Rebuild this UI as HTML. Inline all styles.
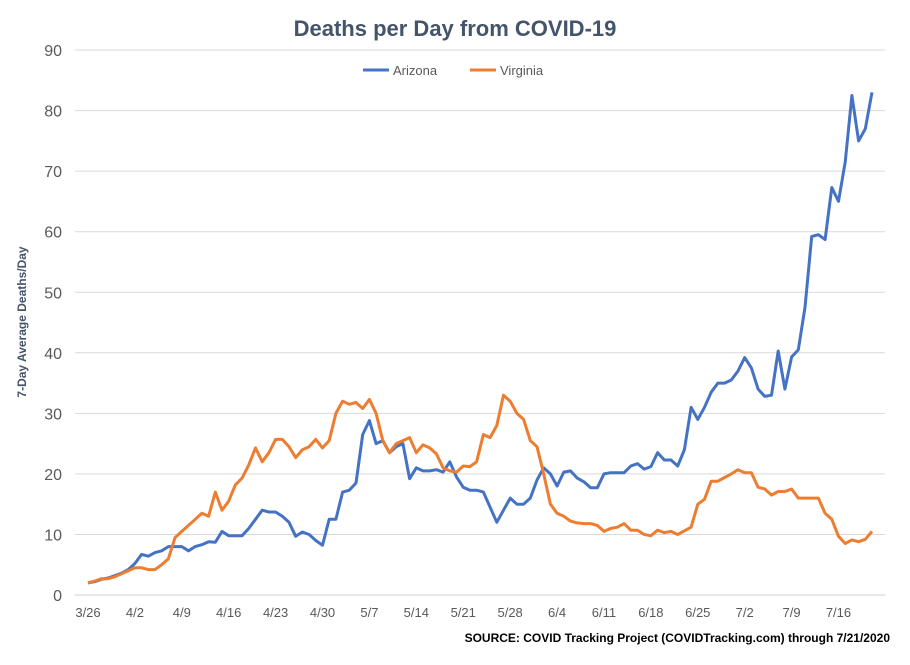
<!DOCTYPE html>
<html><head><meta charset="utf-8"><style>
body{margin:0;background:#fff;font-family:"Liberation Sans",sans-serif}
</style></head><body>
<svg id="c" width="910" height="660" viewBox="0 0 910 660">
<rect width="910" height="660" fill="#fff"/>
<text x="455" y="36" text-anchor="middle" font-size="22" font-weight="bold" fill="#44546a">Deaths per Day from COVID-19</text>
<g>
<line x1="363" y1="70" x2="389" y2="70" stroke="#4472c4" stroke-width="3"/>
<text x="393" y="75" font-size="13" fill="#595959">Arizona</text>
<line x1="470" y1="70" x2="496" y2="70" stroke="#ed7d31" stroke-width="3"/>
<text x="500" y="75" font-size="13" fill="#595959">Virginia</text>
</g>
<text transform="translate(26,322) rotate(-90)" text-anchor="middle" font-size="12" font-weight="bold" fill="#44546a">7-Day Average Deaths/Day</text>
<text x="890" y="642" text-anchor="end" font-size="12" font-weight="bold" fill="#000">SOURCE: COVID Tracking Project (COVIDTracking.com) through 7/21/2020</text>
<g id="grid"></g><g id="xt"></g><g id="series"></g>
</svg>
<script>
const yTicks=[0,10,20,30,40,50,60,70,80,90];
const xTickLabels=["3/26","4/2","4/9","4/16","4/23","4/30","5/7","5/14","5/21","5/28","6/4","6/11","6/18","6/25","7/2","7/9","7/16"];
const arizona=[2.0,2.2,2.6,2.8,3.2,3.6,4.2,5.2,6.7,6.4,7.0,7.3,8.0,8.0,8.0,7.3,8.0,8.3,8.8,8.7,10.5,9.8,9.8,9.8,11,12.5,14,13.7,13.7,13,12,9.7,10.4,10,9,8.2,12.5,12.5,17,17.3,18.5,26.5,28.8,25,25.5,23.5,24.5,25,19.2,21,20.5,20.5,20.7,20.3,22,19.5,17.8,17.3,17.3,17,14.5,12,14,16,15,15,16,19,21,20,18,20.3,20.5,19.3,18.7,17.7,17.7,20,20.2,20.2,20.2,21.3,21.7,20.8,21.2,23.5,22.3,22.3,21.3,24,31,29,31,33.5,35,35,35.5,37,39.2,37.5,34,32.8,33,40.3,34,39.3,40.5,47.5,59.2,59.5,58.7,67.3,65,71.5,82.5,75,77,83];
const virginia=[2.0,2.3,2.7,2.7,3.0,3.5,4.0,4.5,4.5,4.2,4.2,5.0,6.0,9.5,10.5,11.5,12.5,13.5,13.0,17.0,14.0,15.5,18.2,19.3,21.5,24.3,22.0,23.5,25.7,25.7,24.5,22.7,24.0,24.5,25.7,24.3,25.5,30.0,32.0,31.5,31.8,30.8,32.3,30.0,25.5,23.5,25.0,25.5,26.0,23.5,24.8,24.3,23.3,21.0,20.5,20.3,21.3,21.2,22.0,26.5,26.0,28.0,33.0,32.0,30.0,29.0,25.5,24.5,20.0,15.0,13.5,13.0,12.2,11.9,11.8,11.8,11.5,10.5,11.0,11.2,11.8,10.7,10.7,10.0,9.8,10.7,10.3,10.5,10.0,10.6,11.2,15.0,15.8,18.8,18.8,19.4,20.0,20.7,20.2,20.2,17.8,17.5,16.5,17.1,17.1,17.5,16.0,16.0,16.0,16.0,13.5,12.5,9.7,8.5,9.1,8.8,9.2,10.5];
const NS="http://www.w3.org/2000/svg";
const y=v=>595-v*6.055;
const x=i=>88+i*(784/117);
const grid=document.getElementById('grid');
yTicks.forEach(t=>{
 const l=document.createElementNS(NS,'line');
 l.setAttribute('x1',75);l.setAttribute('x2',885);l.setAttribute('y1',y(t));l.setAttribute('y2',y(t));
 l.setAttribute('stroke',t===0?'#d0d0d0':'#d9d9d9');l.setAttribute('stroke-width',1);
 
 
 grid.appendChild(l);
 const tx=document.createElementNS(NS,'text');
 tx.setAttribute('x',62);tx.setAttribute('y',y(t)+6);tx.setAttribute('text-anchor','end');
 tx.setAttribute('font-size',16);tx.setAttribute('fill','#595959');tx.textContent=t;
 
 
 grid.appendChild(tx);
});
const xt=document.getElementById('xt');
xTickLabels.forEach((s,k)=>{
 const tx=document.createElementNS(NS,'text');
 tx.setAttribute('x',x(k*7));tx.setAttribute('y',617);tx.setAttribute('text-anchor','middle');
 tx.setAttribute('font-size',13);tx.setAttribute('fill','#595959');tx.textContent=s;
 
 
 xt.appendChild(tx);
});
const sg=document.getElementById('series');
[[arizona,'#4472c4','arizona-line'],[virginia,'#ed7d31','virginia-line']].forEach(([d,c,n])=>{
 const p=document.createElementNS(NS,'polyline');
 p.setAttribute('points',d.map((v,i)=>x(i).toFixed(1)+','+y(v).toFixed(1)).join(' '));
 p.setAttribute('fill','none');p.setAttribute('stroke',c);p.setAttribute('stroke-width',3);
 p.setAttribute('stroke-linejoin','round');
 
 
 sg.appendChild(p);
});
</script>
</body></html>
